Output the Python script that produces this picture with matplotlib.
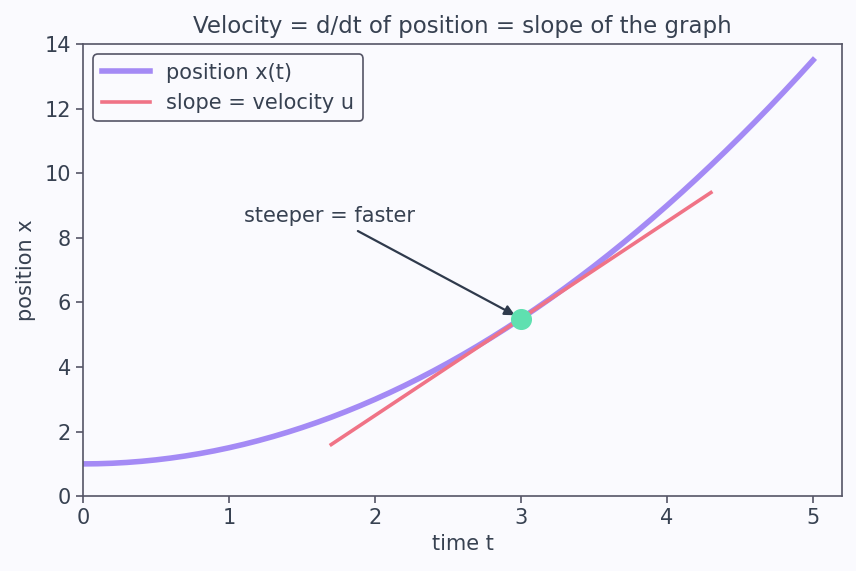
import matplotlib
matplotlib.use("Agg")
import matplotlib.pyplot as plt

# position curve
t_vals = [0.0, 0.1, 0.2, 0.3, 0.4, 0.5, 0.6, 0.7, 0.8, 0.9,
          1.0, 1.1, 1.2, 1.3, 1.4, 1.5, 1.6, 1.7, 1.8, 1.9,
          2.0, 2.1, 2.2, 2.3, 2.4, 2.5, 2.6, 2.7, 2.8, 2.9,
          3.0, 3.1, 3.2, 3.3, 3.4, 3.5, 3.6, 3.7, 3.8, 3.9,
          4.0, 4.1, 4.2, 4.3, 4.4, 4.5, 4.6, 4.7, 4.8, 4.9, 5.0]
x_vals = [1.0, 1.005, 1.02, 1.045, 1.08, 1.125, 1.18, 1.245, 1.32, 1.405,
          1.5, 1.605, 1.72, 1.845, 1.98, 2.125, 2.28, 2.445, 2.62, 2.805,
          3.0, 3.205, 3.42, 3.645, 3.88, 4.125, 4.38, 4.645, 4.92, 5.205,
          5.5, 5.805, 6.12, 6.445, 6.78, 7.125, 7.48, 7.845, 8.22, 8.605,
          9.0, 9.405, 9.82, 10.245, 10.68, 11.125, 11.58, 12.045, 12.52, 13.005, 13.5]

# tangent line endpoints
tan_t = [1.7, 4.3]
tan_x = [1.6, 9.4]

# point of tangency
pt_t = [3.0]
pt_x = [5.5]

BG = "#fafafe"
TXT = "#374151"
SPINE = "#555566"
FS = 15

fig, ax = plt.subplots(figsize=(8.56, 5.71), dpi=100)
fig.patch.set_facecolor(BG)
ax.set_facecolor(BG)

ax.plot(t_vals, x_vals, color="#a48af5", lw=4, label="position x(t)")
ax.plot(tan_t, tan_x, color="#f07386", lw=2.6, label="slope = velocity u")
ax.scatter(pt_t, pt_x, s=200, color="#5fe0b0", zorder=5)

ax.annotate("steeper = faster", xy=(pt_t[0], pt_x[0]), xytext=(1.1, 8.5),
            fontsize=FS, color=TXT,
            arrowprops=dict(arrowstyle="-|>", color="#2f3a4c", lw=1.6,
                            shrinkA=4, shrinkB=5, mutation_scale=15))

ax.set_xlim(0, 5.2)
ax.set_ylim(0, 14)
ax.set_xticks([0, 1, 2, 3, 4, 5])
ax.set_yticks([0, 2, 4, 6, 8, 10, 12, 14])
ax.set_xlabel("time t", fontsize=FS, color=TXT)
ax.set_ylabel("position x", fontsize=FS, color=TXT, labelpad=6)
ax.set_title("Velocity = d/dt of position = slope of the graph", fontsize=16.5,
             color=TXT, pad=8)

for s in ax.spines.values():
    s.set_color(SPINE)
    s.set_linewidth(1.2)
ax.tick_params(colors=SPINE, labelcolor=TXT, labelsize=FS, width=1.2, length=5)

leg = ax.legend(loc="upper left", fontsize=FS, frameon=True, fancybox=True,
                handlelength=2.3)
leg.get_frame().set_edgecolor(SPINE)
leg.get_frame().set_facecolor(BG)
leg.get_frame().set_linewidth(1.2)
leg.get_frame().set_alpha(1)
for txt in leg.get_texts():
    txt.set_color(TXT)

fig.subplots_adjust(left=0.097, right=0.984, top=0.923, bottom=0.131)
fig.savefig("out.png", dpi=100, facecolor=BG)
